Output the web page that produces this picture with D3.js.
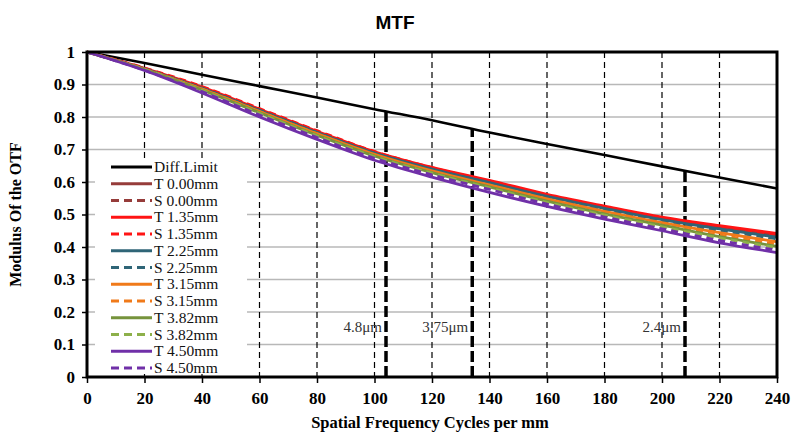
<!DOCTYPE html>
<html><head><meta charset="utf-8">
<script src="https://cdn.jsdelivr.net/npm/d3@7"></script>
<style>body{margin:0;background:#fff}svg{display:block}</style>
</head><body>
<svg id="c" width="793" height="432"></svg>
<script>
const freqs = [0,20,40,60,80,100,120,140,160,180,200,220,240];
const diffLimit = [1,0.966,0.930,0.895,0.860,0.824,0.790,0.752,0.717,0.683,0.648,0.614,0.580];
const t000 = [1,0.948,0.889,0.821,0.753,0.690,0.641,0.600,0.557,0.521,0.487,0.460,0.436];
const s000 = [1,0.949,0.890,0.823,0.755,0.691,0.642,0.601,0.558,0.520,0.485,0.457,0.432];
const t135 = [1,0.950,0.892,0.824,0.756,0.693,0.645,0.605,0.562,0.526,0.492,0.466,0.442];
const s135 = [1,0.951,0.894,0.826,0.758,0.694,0.644,0.602,0.558,0.521,0.486,0.458,0.434];
const t225 = [1,0.948,0.888,0.820,0.752,0.689,0.640,0.598,0.556,0.519,0.484,0.456,0.430];
const s225 = [1,0.948,0.889,0.821,0.753,0.689,0.639,0.597,0.553,0.515,0.480,0.451,0.425];
const t315 = [1,0.947,0.886,0.817,0.749,0.685,0.634,0.591,0.548,0.510,0.475,0.444,0.416];
const s315 = [1,0.947,0.886,0.817,0.748,0.683,0.631,0.587,0.543,0.504,0.468,0.437,0.409];
const t382 = [1,0.946,0.883,0.813,0.744,0.680,0.629,0.585,0.541,0.502,0.467,0.432,0.402];
const s382 = [1,0.946,0.882,0.811,0.742,0.678,0.627,0.582,0.537,0.498,0.462,0.428,0.398];
const t450 = [1,0.943,0.874,0.800,0.731,0.667,0.615,0.568,0.525,0.486,0.450,0.413,0.383];
const s450 = [1,0.944,0.878,0.806,0.737,0.673,0.622,0.577,0.532,0.492,0.456,0.420,0.390];
const seriesNames = ["Diff.Limit","T 0.00mm","S 0.00mm","T 1.35mm","S 1.35mm","T 2.25mm","S 2.25mm","T 3.15mm","S 3.15mm","T 3.82mm","S 3.82mm","T 4.50mm","S 4.50mm"];
const seriesValues = [diffLimit,t000,s000,t135,s135,t225,s225,t315,s315,t382,s382,t450,s450];
const seriesColors = ["#000000","#963C3A","#963C3A","#FF1414","#FF1414","#2F6577","#2F6577","#F07A1A","#F07A1A","#76933C","#8DB04A","#7030A8","#7030A8"];
const seriesDashed = [false,false,true,false,true,false,true,false,true,false,true,false,true];
const markerFreqs = [104,134,208];
const markerLabels = ["4.8μm","3.75μm","2.4μm"];
const xTicks = [0,20,40,60,80,100,120,140,160,180,200,220,240];
const yTicks = [0,0.1,0.2,0.3,0.4,0.5,0.6,0.7,0.8,0.9,1];

const svg = d3.select("#c");
const L=87, R=777, T=52, B=377;
const x = d3.scaleLinear().domain([0,240]).range([L,R]);
const y = d3.scaleLinear().domain([0,1]).range([B,T]);
const serif = "'Liberation Serif','Times New Roman',serif";

svg.append("text").attr("x",395).attr("y",29).attr("text-anchor","middle")
  .attr("font-family","'Liberation Sans',Arial,sans-serif").attr("font-weight","bold")
  .attr("font-size",19).text("MTF");

svg.append("g").selectAll("line").data(yTicks.filter(d=>d>0&&d<1)).join("line")
  .attr("x1",L).attr("x2",R).attr("y1",d=>y(d)).attr("y2",d=>y(d))
  .attr("stroke","#b8b8b8").attr("stroke-width",1.6);
svg.append("g").selectAll("line").data(xTicks.filter(d=>d>0&&d<240)).join("line")
  .attr("x1",d=>x(d)).attr("x2",d=>x(d)).attr("y1",T).attr("y2",B)
  .attr("stroke","#000").attr("stroke-width",1.2).attr("stroke-dasharray","6,4");

const diffAt = f => { const i=d3.bisectLeft(freqs,f); const f0=freqs[i-1], f1=freqs[i]; const t=(f-f0)/(f1-f0); return diffLimit[i-1]+(diffLimit[i]-diffLimit[i-1])*t; };
svg.append("g").selectAll("line").data(markerFreqs).join("line")
  .attr("x1",d=>x(d)).attr("x2",d=>x(d)).attr("y1",B).attr("y2",d=>y(diffAt(d)))
  .attr("stroke","#000").attr("stroke-width",3.5).attr("stroke-dasharray","11,4");
svg.append("g").selectAll("text").data(markerFreqs).join("text")
  .attr("x",d=>x(d)-4).attr("y",y(0.155)+5).attr("text-anchor","end")
  .attr("font-family",serif).attr("font-size",15).attr("fill","#333")
  .text((d,i)=>markerLabels[i]);

const line = d3.line().x((d,i)=>x(freqs[i])).y(d=>y(d)).curve(d3.curveMonotoneX);
const gl = svg.append("g");
seriesValues.forEach((vals,k)=>{
  gl.append("path").attr("d",line(vals)).attr("fill","none")
    .attr("stroke",seriesColors[k]).attr("stroke-width",k===0?2.6:2.8)
    .attr("stroke-dasharray",seriesDashed[k]?"7,5":null);
});

const lg = svg.append("g");
lg.append("rect").attr("x",95).attr("y",158).attr("width",152).attr("height",216).attr("fill","#fff");
seriesNames.forEach((n,k)=>{
  const yy = 167 + k*16.75;
  lg.append("line").attr("x1",111).attr("x2",152).attr("y1",yy).attr("y2",yy)
    .attr("stroke",seriesColors[k]).attr("stroke-width",3)
    .attr("stroke-dasharray",seriesDashed[k]?"8,5":null);
  lg.append("text").attr("x",154).attr("y",yy+5).attr("font-family",serif)
    .attr("font-size",15.5).attr("fill","#111").text(n);
});

svg.append("rect").attr("x",L).attr("y",T).attr("width",R-L).attr("height",B-T)
  .attr("fill","none").attr("stroke","#000").attr("stroke-width",3);

const xAxis = d3.axisBottom(x).tickValues(xTicks).tickSize(6).tickSizeOuter(0).tickFormat(d3.format("d"));
const gx = svg.append("g").attr("transform",`translate(0,${B})`).call(xAxis);
gx.select(".domain").remove();
gx.selectAll("line").attr("stroke","#000").attr("stroke-width",1.5);
gx.selectAll("text").attr("font-family",serif).attr("font-weight","bold").attr("font-size",17).attr("dy","1.05em").attr("fill","#000");

const yAxis = d3.axisLeft(y).tickValues(yTicks).tickSize(5).tickSizeOuter(0).tickFormat(d=>d===0?"0":d===1?"1":d3.format(".1f")(d));
const gy = svg.append("g").attr("transform",`translate(${L},0)`).call(yAxis);
gy.select(".domain").remove();
gy.selectAll("line").attr("stroke","#000").attr("stroke-width",1.5);
gy.selectAll("text").attr("font-family",serif).attr("font-weight","bold").attr("font-size",17).attr("x",-12).attr("fill","#000");

svg.append("text").attr("x",430).attr("y",428).attr("text-anchor","middle")
  .attr("font-family",serif).attr("font-weight","bold").attr("font-size",16.5)
  .text("Spatial Frequency Cycles per mm");
svg.append("text").attr("transform",`translate(21,${(T+B)/2}) rotate(-90)`).attr("text-anchor","middle")
  .attr("font-family",serif).attr("font-weight","bold").attr("font-size",16)
  .text("Modulus Of the OTF");
</script>
</body></html>
